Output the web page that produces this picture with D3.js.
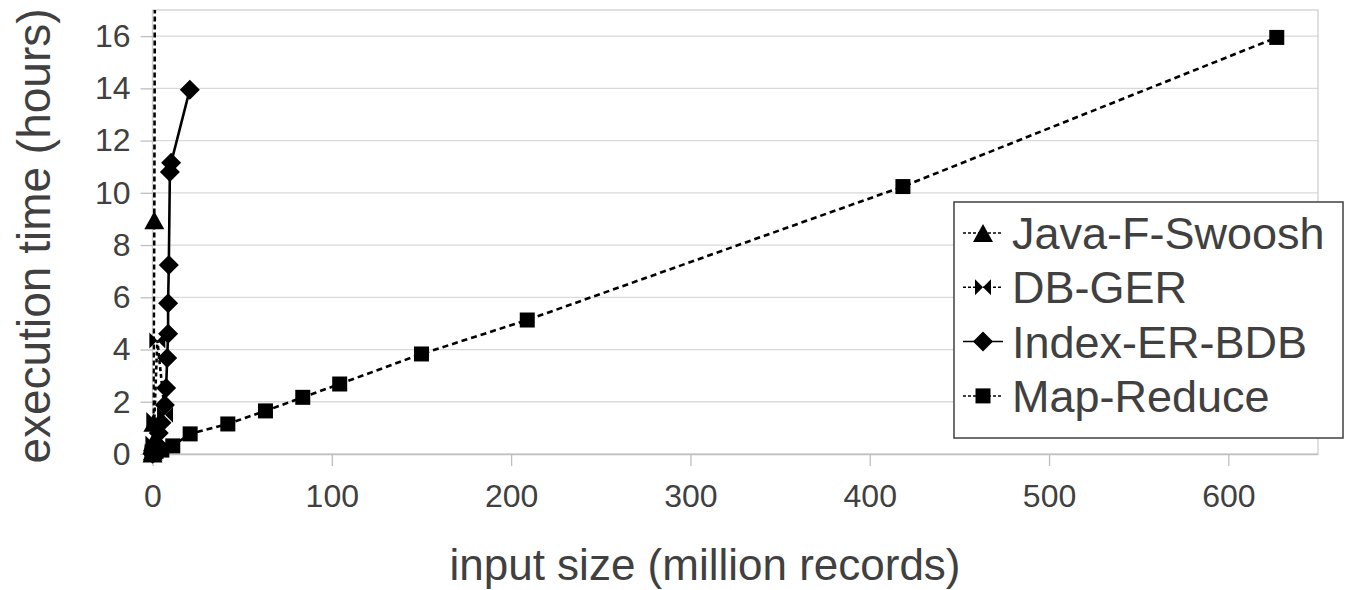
<!DOCTYPE html>
<html>
<head>
<meta charset="utf-8">
<script src="https://cdn.jsdelivr.net/npm/d3@7"></script>
<style>
  body { margin: 0; background: #fff; }
  text { font-family: "Liberation Sans", Arial, sans-serif; fill: #404040; }
</style>
</head>
<body>
<div id="chart"></div>
<script>
// Series values (x = million records, y = hours)
const javaX = [0.02, 0.1, 0.25, 0.5, 1, 2];
const javaY = [0.02, 0.1, 0.45, 1.2, 8.95, 38];

const dbgerX = [0.02, 0.1, 0.5, 1, 2.7, 7];
const dbgerY = [0.02, 0.1, 0.4, 1.3, 4.35, 1.5];

const indexX = [0.02, 0.1, 0.5, 1, 2, 3.5, 5, 6.9, 7.6, 8.2, 8.7, 8.7, 9.1, 9.7, 10.4, 20.8];
const indexY = [0.01, 0.03, 0.1, 0.2, 0.4, 0.8, 1.2, 1.88, 2.53, 3.68, 4.6, 5.77, 7.24, 10.8, 11.15, 13.95];

const mrX = [0.02, 0.1, 0.5, 1, 2, 5.2, 11.3, 21, 42, 63, 83.8, 104.4, 150, 209, 418.5, 627];
const mrY = [0.01, 0.02, 0.04, 0.06, 0.1, 0.15, 0.31, 0.77, 1.15, 1.65, 2.17, 2.68, 3.83, 5.13, 10.24, 15.95];

const seriesNames = ["Java-F-Swoosh", "DB-GER", "Index-ER-BDB", "Map-Reduce"];
const xTicks = [0, 100, 200, 300, 400, 500, 600];
const yTicks = [0, 2, 4, 6, 8, 10, 12, 14, 16];

// Chart dimensions
const W = 1351, H = 590;
const margin = { top: 10, right: 33, bottom: 136, left: 152.5 };
const width = W - margin.left - margin.right;
const height = H - margin.top - margin.bottom;

const svg = d3.select("#chart")
  .append("svg")
  .attr("width", W)
  .attr("height", H);

const g = svg.append("g")
  .attr("transform", "translate(" + margin.left + "," + margin.top + ")");

const x = d3.scaleLinear().domain([0, 650]).range([0, width]);
const y = d3.scaleLinear().domain([0, 17]).range([height, 0]);

// gridlines
g.selectAll(".grid")
  .data(yTicks.slice(1))
  .enter().append("line")
  .attr("x1", 0).attr("x2", width)
  .attr("y1", d => y(d)).attr("y2", d => y(d))
  .attr("stroke", "#d9d9d9").attr("stroke-width", 1.3);

// plot border
g.append("rect")
  .attr("width", width).attr("height", height)
  .attr("fill", "none").attr("stroke", "#d0d0d0").attr("stroke-width", 1.3);

// Y axis
const yAxis = g.append("g")
  .call(d3.axisLeft(y).tickValues(yTicks).tickSize(12).tickPadding(10).tickSizeOuter(0));
yAxis.select(".domain").remove();
yAxis.selectAll("line").attr("stroke", "#bfbfbf").attr("stroke-width", 1.3);
yAxis.selectAll("text").style("font-size", "32px").attr("fill", "#404040");

// X axis
const xAxis = g.append("g")
  .attr("transform", "translate(0," + height + ")")
  .call(d3.axisBottom(x).tickValues(xTicks).tickSize(12).tickPadding(18).tickSizeOuter(0));
xAxis.select(".domain").attr("stroke", "#bfbfbf").attr("stroke-width", 1.5);
xAxis.selectAll("line").attr("stroke", "#bfbfbf").attr("stroke-width", 1.3);
xAxis.selectAll("text").style("font-size", "32px").attr("fill", "#404040");

// axis titles
svg.append("text")
  .attr("x", 705).attr("y", 580)
  .attr("text-anchor", "middle")
  .style("font-size", "44px")
  .text("input size (million records)");

svg.append("text")
  .attr("transform", "translate(50,236) rotate(-90)")
  .attr("text-anchor", "middle")
  .style("font-size", "46px")
  .text("execution time (hours)");

// marker shapes
const triangle = "M0,-9L10,9L-10,9Z";
const bowtie = "M-8,-8L0,0L-8,8ZM8,-8L0,0L8,8Z";
const diamond = "M0,-10L10,0L0,10L-10,0Z";
const square = "M-7.5,-7.5H7.5V7.5H-7.5Z";

const series = [
  { name: seriesNames[0], xs: javaX, ys: javaY, dash: "5,3", marker: triangle },
  { name: seriesNames[1], xs: dbgerX, ys: dbgerY, dash: "4,3", marker: bowtie },
  { name: seriesNames[2], xs: indexX, ys: indexY, dash: null, marker: diamond },
  { name: seriesNames[3], xs: mrX, ys: mrY, dash: "6,4", marker: square }
];

svg.append("defs").append("clipPath").attr("id", "plotclip")
  .append("rect").attr("width", width).attr("height", height);

const line = d3.line().x(d => x(d[0])).y(d => y(d[1]));

series.forEach(function(s) {
  const pts = s.xs.map((v, i) => [v, s.ys[i]]);
  g.append("path")
    .datum(pts)
    .attr("clip-path", "url(#plotclip)")
    .attr("fill", "none")
    .attr("stroke", "#000")
    .attr("stroke-width", 2.6)
    .attr("stroke-dasharray", s.dash)
    .attr("d", line);
  g.selectAll(null)
    .data(pts.filter(d => d[1] <= 17))
    .enter().append("path")
    .attr("d", s.marker)
    .attr("fill", "#000")
    .attr("transform", d => "translate(" + x(d[0]) + "," + y(d[1]) + ")");
});

// legend
const legend = svg.append("g");
legend.append("rect")
  .attr("x", 954).attr("y", 202)
  .attr("width", 389).attr("height", 236)
  .attr("fill", "#fff").attr("stroke", "#404040").attr("stroke-width", 1.5);

series.forEach(function(s, i) {
  const cy = 233 + i * 54.3;
  legend.append("line")
    .attr("x1", 963).attr("x2", 1003)
    .attr("y1", cy).attr("y2", cy)
    .attr("stroke", "#000").attr("stroke-width", 1.5)
    .attr("stroke-dasharray", s.dash ? "3,2" : null);
  legend.append("path")
    .attr("d", s.marker)
    .attr("fill", "#000")
    .attr("transform", "translate(983," + cy + ")");
  legend.append("text")
    .attr("x", 1012).attr("y", cy + 16)
    .style("font-size", "45px")
    .text(s.name);
});
</script>
</body>
</html>
